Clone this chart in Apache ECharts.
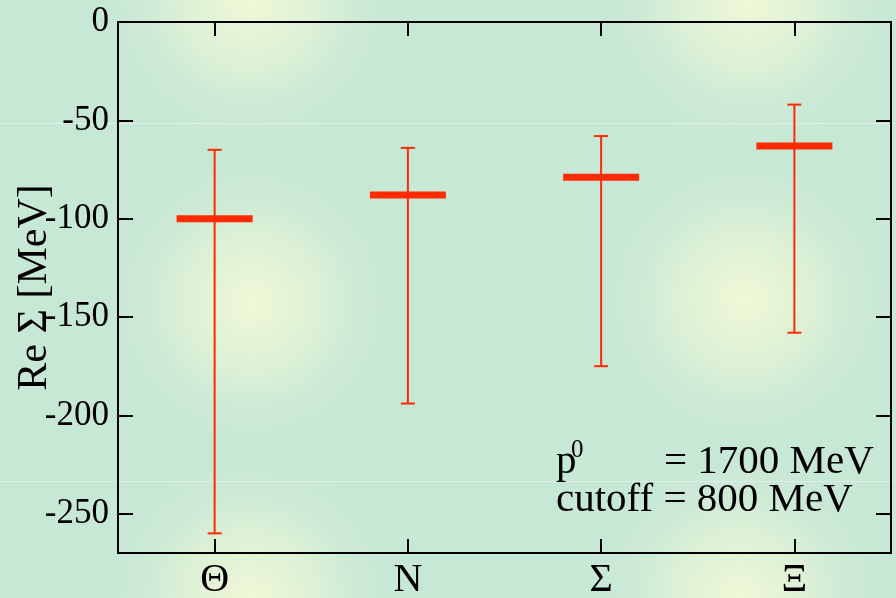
<!DOCTYPE html>
<html><head><meta charset="utf-8">
<script src="https://cdn.jsdelivr.net/npm/echarts@6/dist/echarts.min.js"></script>
<style>html,body{margin:0;padding:0;background:#c8e8d6;}#c{width:896px;height:598px;}</style>
</head><body><div id="c"></div>
<script>
const categories = ['Θ', 'N', 'Σ', 'Ξ'];
const centralValues = [-100, -88, -79, -63];
const upperValues = [-65, -64, -58, -42];
const lowerValues = [-260, -194, -175, -158];
const yTickValues = [0, -50, -100, -150, -200, -250];

const FONT = '"Liberation Serif", "DejaVu Serif", serif';
const RED = '#ff2a00';
const BG = '#c8e8d6';

function blob(cx, cy, r) {
  return {
    type: 'circle', silent: true, z: -10,
    shape: { cx: cx, cy: cy, r: r },
    style: {
      fill: {
        type: 'radial', x: 0.5, y: 0.5, r: 0.5,
        colorStops: [
          { offset: 0, color: 'rgba(240,248,214,1)' },
          { offset: 0.45, color: 'rgba(226,243,214,0.8)' },
          { offset: 1, color: 'rgba(200,232,214,0)' }
        ]
      }
    }
  };
}

const chart = echarts.init(document.getElementById('c'), null, { renderer: 'canvas' });
const axisLine = { show: true, onZero: false, lineStyle: { color: '#000', width: 2 } };

chart.setOption({
  animation: false,
  backgroundColor: BG,
  grid: { left: 118, right: 5, top: 22, bottom: 45, containLabel: false, outerBoundsMode: 'none' },
  xAxis: [
    {
      type: 'category', data: categories, position: 'bottom', boundaryGap: true,
      axisLine: axisLine,
      axisTick: { show: true, inside: true, alignWithLabel: true, length: 14, lineStyle: { color: '#000', width: 2 } },
      axisLabel: { color: '#000', fontFamily: FONT, fontSize: 40, margin: 7 },
      splitLine: { show: false }
    },
    {
      type: 'category', data: categories, position: 'top', boundaryGap: true,
      axisLine: axisLine,
      axisTick: { show: true, inside: true, alignWithLabel: true, length: 14, lineStyle: { color: '#000', width: 2 } },
      axisLabel: { show: false },
      splitLine: { show: false }
    }
  ],
  yAxis: [
    {
      type: 'value', min: -270, max: 0, position: 'left',
      name: 'Re Σ [MeV]', nameLocation: 'middle', nameRotate: 90, nameGap: 62, nameMoveOverlap: false,
      nameTextStyle: { color: '#000', fontFamily: FONT, fontSize: 42 },
      axisLine: axisLine,
      axisTick: { show: true, inside: true, length: 15, customValues: yTickValues, lineStyle: { color: '#000', width: 2 } },
      axisLabel: { color: '#000', fontFamily: FONT, fontSize: 35, margin: 9, customValues: yTickValues },
      splitLine: { show: false }
    },
    {
      type: 'value', min: -270, max: 0, position: 'right',
      axisLine: axisLine,
      axisTick: { show: true, inside: true, length: 15, customValues: yTickValues, lineStyle: { color: '#000', width: 2 } },
      axisLabel: { show: false },
      splitLine: { show: false }
    }
  ],
  graphic: [
    blob(252, 303, 150), blob(745, 300, 150),
    blob(250, 0, 150), blob(748, 0, 150),
    blob(250, 600, 150), blob(740, 600, 150),
    { type: 'line', silent: true, z: -5, shape: { x1: 0, y1: 123.5, x2: 896, y2: 123.5 }, style: { stroke: 'rgba(255,255,255,0.35)', lineWidth: 1 } },
    { type: 'line', silent: true, z: -5, shape: { x1: 0, y1: 481.5, x2: 896, y2: 481.5 }, style: { stroke: 'rgba(255,255,255,0.35)', lineWidth: 1 } },
    { type: 'text', z: 100, x: 556, y: 462, style: { text: 'p', font: '41px ' + FONT, fill: '#000', verticalAlign: 'middle', align: 'left' } },
    { type: 'text', z: 100, x: 571, y: 450, style: { text: '0', font: '25px ' + FONT, fill: '#000', verticalAlign: 'middle', align: 'left' } },
    { type: 'text', z: 100, x: 664, y: 462, style: { text: '= 1700 MeV', font: '41px ' + FONT, fill: '#000', verticalAlign: 'middle', align: 'left' } },
    { type: 'text', z: 100, x: 556, y: 500, style: { text: 'cutoff = 800 MeV', font: '41px ' + FONT, fill: '#000', verticalAlign: 'middle', align: 'left' } }
  ],
  series: [
    {
      type: 'custom', xAxisIndex: 0, yAxisIndex: 0, z: 3,
      data: categories.map((c, i) => [i, upperValues[i], lowerValues[i]]),
      renderItem: function (params, api) {
        const x = api.value(0);
        const pHi = api.coord([x, api.value(1)]);
        const pLo = api.coord([x, api.value(2)]);
        const cap = 7;
        const st = { stroke: RED, lineWidth: 2 };
        return {
          type: 'group', children: [
            { type: 'line', shape: { x1: pHi[0], y1: pHi[1], x2: pLo[0], y2: pLo[1] }, style: st },
            { type: 'line', shape: { x1: pHi[0] - cap, y1: pHi[1], x2: pHi[0] + cap, y2: pHi[1] }, style: st },
            { type: 'line', shape: { x1: pLo[0] - cap, y1: pLo[1], x2: pLo[0] + cap, y2: pLo[1] }, style: st }
          ]
        };
      }
    },
    {
      type: 'scatter', xAxisIndex: 0, yAxisIndex: 0, z: 4,
      data: centralValues,
      symbol: 'rect', symbolSize: [76, 7],
      itemStyle: { color: RED, opacity: 1 }
    }
  ]
});
</script>
</body></html>
